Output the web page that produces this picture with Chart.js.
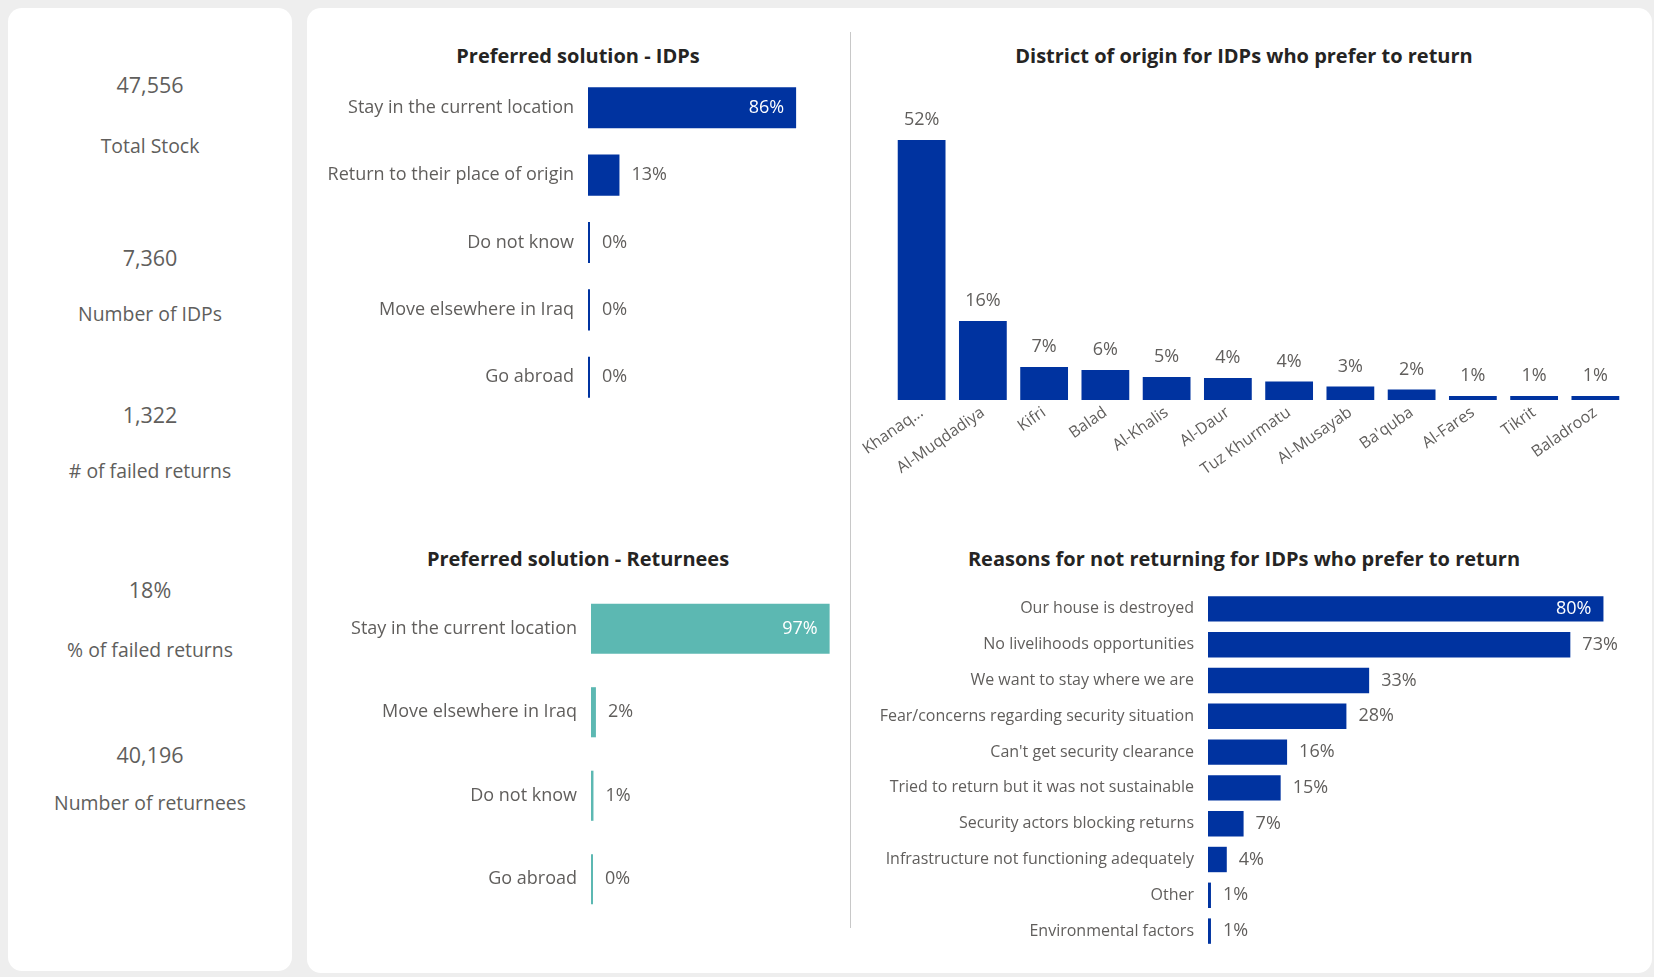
<!DOCTYPE html>
<html>
<head>
<meta charset="utf-8">
<script src="https://cdn.jsdelivr.net/npm/chart.js@4"></script>
<style>
  html, body { margin:0; padding:0; }
  body { width:1654px; height:977px; background:#eeeeee; position:relative; overflow:hidden;
         font-family:"Open Sans","Noto Sans",sans-serif; }
  .card { position:absolute; background:#ffffff; border-radius:14px; }
  .kpi { position:absolute; left:8px; width:284px; text-align:center; color:#605e5c; line-height:30px; }
  .num { font-size:21.5px; }
  .lab { font-size:19.4px; }
  .title { position:absolute; text-align:center; font-weight:bold; font-size:20px; color:#252423; line-height:28px; white-space:nowrap; }
  .divider { position:absolute; left:850px; top:32px; width:1px; height:896px; background:#c8c8c8; }
  canvas { position:absolute; }
</style>
</head>
<body>
<div class="card" style="left:8px;top:8px;width:284px;height:963px;"></div>
<div class="card" style="left:307px;top:8px;width:1345px;height:965px;"></div>
<div class="divider"></div>

<div id="kpis"></div>

<div class="title" style="left:378px;width:400px;top:42px;">Preferred solution - IDPs</div>
<div class="title" style="left:944px;width:600px;top:42px;">District of origin for IDPs who prefer to return</div>
<div class="title" style="left:378px;width:400px;top:545px;">Preferred solution - Returnees</div>
<div class="title" style="left:944px;width:600px;top:545px;">Reasons for not returning for IDPs who prefer to return</div>

<canvas id="c1" width="520" height="337" style="left:310px;top:74px;"></canvas>
<canvas id="c2" width="527" height="334" style="left:310px;top:587px;"></canvas>
<canvas id="c3" width="790" height="380" style="left:850px;top:100px;"></canvas>
<canvas id="c4" width="783" height="358" style="left:860px;top:591px;"></canvas>

<script>
// ---------- DATA ----------
const kpiValues = ["47,556", "7,360", "1,322", "18%", "40,196"];
const kpiLabels = ["Total Stock", "Number of IDPs", "# of failed returns", "% of failed returns", "Number of returnees"];

const idpCategories = ["Stay in the current location", "Return to their place of origin", "Do not know", "Move elsewhere in Iraq", "Go abroad"];
const idpValues = [86, 13, 0, 0, 0];

const returneeCategories = ["Stay in the current location", "Move elsewhere in Iraq", "Do not know", "Go abroad"];
const returneeValues = [97, 2, 1, 0];

const districtCategories = ["Khanaq...", "Al-Muqdadiya", "Kifri", "Balad", "Al-Khalis", "Al-Daur", "Tuz Khurmatu", "Al-Musayab", "Ba'quba", "Al-Fares", "Tikrit", "Baladrooz"];
const districtValues = [52, 15.8, 6.6, 6.0, 4.6, 4.4, 3.7, 2.7, 2.1, 0.8, 0.8, 0.8];

const reasonCategories = ["Our house is destroyed", "No livelihoods opportunities", "We want to stay where we are", "Fear/concerns regarding security situation", "Can't get security clearance", "Tried to return but it was not sustainable", "Security actors blocking returns", "Infrastructure not functioning adequately", "Other", "Environmental factors"];
const reasonValues = [80, 73.3, 32.6, 28, 16, 14.7, 7.2, 3.8, 0.6, 0.6];

// ---------- KPI cards ----------
const kpiNumY = [85, 258, 415, 590, 755];
const kpiLabY = [146, 314, 471, 650, 803];
const kpiBox = document.getElementById('kpis');
kpiValues.forEach((v, i) => {
  const n = document.createElement('div');
  n.className = 'kpi num'; n.style.top = (kpiNumY[i] - 15) + 'px'; n.textContent = v;
  const l = document.createElement('div');
  l.className = 'kpi lab'; l.style.top = (kpiLabY[i] - 15) + 'px'; l.textContent = kpiLabels[i];
  kpiBox.appendChild(n); kpiBox.appendChild(l);
});

// ---------- Chart helpers ----------
const FONT = '"Open Sans","Noto Sans",sans-serif';
const GRAY = '#605e5c';
const BLUE = '#0033a0';
const TEAL = '#5cb8b2';

const valueLabels = {
  id: 'valueLabels',
  afterDatasetsDraw(chart, args, opts) {
    const ctx = chart.ctx;
    const meta = chart.getDatasetMeta(0);
    const data = chart.data.datasets[0].data;
    const max = Math.max(...data);
    const horizontal = chart.options.indexAxis === 'y';
    ctx.save();
    ctx.font = opts.size + 'px ' + FONT;
    meta.data.forEach((bar, i) => {
      const v = data[i];
      const txt = Math.round(v) + '%';
      if (horizontal) {
        ctx.textBaseline = 'middle';
        if (opts.insideMax && v === max) {
          ctx.fillStyle = '#ffffff'; ctx.textAlign = 'right';
          ctx.fillText(txt, bar.x - 12, bar.y);
        } else {
          ctx.fillStyle = GRAY; ctx.textAlign = 'left';
          ctx.fillText(txt, bar.x + 12, bar.y);
        }
      } else {
        ctx.fillStyle = GRAY; ctx.textAlign = 'center'; ctx.textBaseline = 'middle';
        ctx.fillText(txt, bar.x, bar.y - 20);
      }
    });
    ctx.restore();
  }
};

function hbar(id, cats, vals, color, axisWidth, xMax, barPct, labelSize, valSize) {
  return new Chart(document.getElementById(id), {
    type: 'bar',
    data: { labels: cats, datasets: [{ data: vals, backgroundColor: color, borderWidth: 0,
            categoryPercentage: 1, barPercentage: barPct, minBarLength: 2 }] },
    options: {
      indexAxis: 'y', responsive: false, animation: false, devicePixelRatio: 1,
      layout: { padding: 0 },
      plugins: { legend: { display: false }, tooltip: { enabled: false },
                 valueLabels: { insideMax: true, size: valSize } },
      scales: {
        x: { display: false, min: 0, max: xMax },
        y: { grid: { display: false, drawTicks: false }, border: { display: false },
             ticks: { color: GRAY, font: { family: FONT, size: labelSize }, padding: 14, autoSkip: false },
             afterFit: s => { s.width = axisWidth; s.paddingTop = 0; s.paddingBottom = 0; } }
      }
    },
    plugins: [valueLabels]
  });
}

hbar('c1', idpCategories, idpValues, BLUE, 278, 100, 0.61, 18, 18);
hbar('c2', returneeCategories, returneeValues, TEAL, 281, 100, 0.6, 18, 18);
hbar('c4', reasonCategories, reasonValues, BLUE, 348, 88, 0.71, 16, 18);

new Chart(document.getElementById('c3'), {
  type: 'bar',
  data: { labels: districtCategories, datasets: [{ data: districtValues, backgroundColor: BLUE, borderWidth: 0,
          categoryPercentage: 1, barPercentage: 0.78 }] },
  options: {
    responsive: false, animation: false, devicePixelRatio: 1,
    layout: { padding: { left: 41, right: 14, top: 0, bottom: 0 } },
    plugins: { legend: { display: false }, tooltip: { enabled: false },
               valueLabels: { size: 18 } },
    scales: {
      y: { display: false, min: 0, max: 60 },
      x: { grid: { display: false, drawTicks: false }, border: { display: false },
           ticks: { color: GRAY, font: { family: FONT, size: 16 }, minRotation: 35, maxRotation: 35, autoSkip: false, padding: 3 },
           afterFit: s => { s.height = 80; s.paddingLeft = 0; s.paddingRight = 0; } }
    }
  },
  plugins: [valueLabels]
});
</script>
</body>
</html>
